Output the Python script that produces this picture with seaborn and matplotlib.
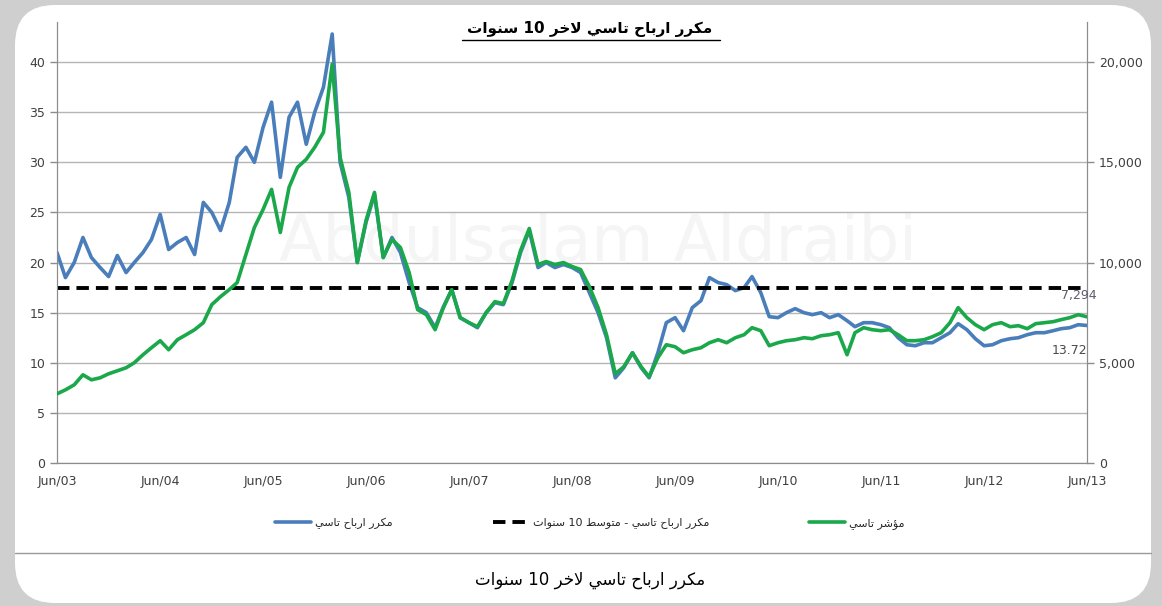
import numpy as np
import pandas as pd
import matplotlib
matplotlib.use('Agg')
import matplotlib.pyplot as plt
import matplotlib.dates as mdates
from matplotlib.patches import FancyBboxPatch
from matplotlib.lines import Line2D
from matplotlib.ticker import FuncFormatter
import seaborn as sns

# ── datos (mensuales) ─────────────────────────────────────────
fechas = pd.date_range('2003-06-01', periods=121, freq='MS')

# مكرر ارباح تاسي (eje izquierdo)
pe_tasi = [
    21.0, 18.5, 20.0, 22.5, 20.5, 19.5, 18.6,
    20.7, 19.0, 20.0, 21.0, 22.3, 24.8, 21.3, 22.0, 22.5, 20.8, 26.0, 25.0,
    23.2, 26.0, 30.5, 31.5, 30.0, 33.5, 36.0, 28.5, 34.5, 36.0, 31.8, 35.0,
    37.5, 42.8, 30.0, 26.5, 20.0, 24.0, 26.8, 20.5, 22.5, 21.0, 18.0, 15.5,
    15.0, 13.5, 15.5, 17.3, 14.5, 14.0, 13.5, 15.0, 16.0, 15.8, 18.0, 21.0,
    23.2, 19.5, 20.0, 19.5, 19.8, 19.5, 19.0, 17.0, 15.0, 12.5, 8.5, 9.5,
    11.0, 9.5, 8.5, 11.0, 14.0, 14.5, 13.2, 15.5, 16.2, 18.5, 18.0, 17.8,
    17.2, 17.5, 18.6, 17.0, 14.6, 14.5, 15.0, 15.4, 15.0, 14.8, 15.0, 14.5,
    14.8, 14.2, 13.6, 14.0, 14.0, 13.8, 13.5, 12.5, 11.8, 11.7, 12.0, 12.0,
    12.5, 13.0, 13.9, 13.3, 12.4, 11.7, 11.8, 12.2, 12.4, 12.5, 12.8, 13.0,
    13.0, 13.2, 13.4, 13.5, 13.8, 13.72,
]

# مؤشر تاسي (eje derecho)
indice_tasi = [
    3450, 3650, 3900, 4400, 4150, 4250, 4450,
    4600, 4750, 5000, 5400, 5750, 6100, 5650, 6150, 6400, 6650, 7000, 7900,
    8300, 8650, 9000, 10400, 11750, 12650, 13650, 11500, 13750, 14750, 15150, 15750,
    16500, 19900, 15250, 13500, 10000, 12100, 13500, 10250, 11150, 10750, 9500, 7650,
    7400, 6650, 7700, 8650, 7250, 7000, 6800, 7500, 8050, 7950, 9100, 10600,
    11700, 9900, 10050, 9900, 10000, 9800, 9650, 8800, 7750, 6400, 4450, 4800,
    5500, 4800, 4300, 5250, 5900, 5800, 5500, 5650, 5750, 6000, 6150, 6000,
    6250, 6400, 6750, 6600, 5850, 6000, 6100, 6150, 6250, 6200, 6350, 6400,
    6500, 5400, 6500, 6750, 6650, 6600, 6650, 6400, 6100, 6100, 6150, 6300,
    6500, 7000, 7750, 7250, 6900, 6650, 6900, 7000, 6800, 6850, 6700, 6950,
    7000, 7050, 7150, 7250, 7400, 7294,
]

pe_promedio_10 = 17.5

ticks_izq = [0, 5, 10, 15, 20, 25, 30, 35, 40]
ticks_der = [0, 5000, 10000, 15000, 20000]

titulo = 'مكرر ارباح تاسي لاخر 10 سنوات'
leyenda_pe = 'مكرر ارباح تاسي'
leyenda_prom = 'مكرر ارباح تاسي - متوسط 10 سنوات'
leyenda_idx = 'مؤشر تاسي'
pie = 'مكرر ارباح تاسي لاخر 10 سنوات'

AZUL = '#4a7ebb'
VERDE = '#1aa84a'

# ── texto árabe: formas de presentación + orden visual ────────
FORMAS = {  # aislada, final, inicial, media
    'ا': ('\uFE8D', '\uFE8E', None, None),
    'ؤ': ('\uFE85', '\uFE86', None, None),
    'ر': ('\uFEAD', '\uFEAE', None, None),
    'و': ('\uFEED', '\uFEEE', None, None),
    'ب': ('\uFE8F', '\uFE90', '\uFE91', '\uFE92'),
    'ت': ('\uFE95', '\uFE96', '\uFE97', '\uFE98'),
    'ح': ('\uFEA1', '\uFEA2', '\uFEA3', '\uFEA4'),
    'خ': ('\uFEA5', '\uFEA6', '\uFEA7', '\uFEA8'),
    'س': ('\uFEB1', '\uFEB2', '\uFEB3', '\uFEB4'),
    'ش': ('\uFEB5', '\uFEB6', '\uFEB7', '\uFEB8'),
    'ط': ('\uFEC1', '\uFEC2', '\uFEC3', '\uFEC4'),
    'ك': ('\uFED9', '\uFEDA', '\uFEDB', '\uFEDC'),
    'ل': ('\uFEDD', '\uFEDE', '\uFEDF', '\uFEE0'),
    'م': ('\uFEE1', '\uFEE2', '\uFEE3', '\uFEE4'),
    'ن': ('\uFEE5', '\uFEE6', '\uFEE7', '\uFEE8'),
    'ي': ('\uFEF1', '\uFEF2', '\uFEF3', '\uFEF4'),
}
LAM_ALEF = ('\uFEFB', '\uFEFC')


def forma_palabra(palabra):
    letras = []
    i = 0
    while i < len(palabra):
        if palabra[i] == 'ل' and i + 1 < len(palabra) and palabra[i + 1] == 'ا':
            letras.append('لا')
            i += 2
        else:
            letras.append(palabra[i])
            i += 1
    salida = []
    for k, c in enumerate(letras):
        prev = letras[k - 1] if k > 0 else None
        nxt = letras[k + 1] if k + 1 < len(letras) else None
        une_prev = prev in FORMAS and FORMAS[prev][2] is not None
        if c == 'لا':
            salida.append(LAM_ALEF[1] if une_prev else LAM_ALEF[0])
            continue
        if c not in FORMAS:
            salida.append(c)
            continue
        f = FORMAS[c]
        une_sig = f[2] is not None and (nxt in FORMAS or nxt == 'لا')
        if une_prev and une_sig:
            salida.append(f[3])
        elif une_prev:
            salida.append(f[1])
        elif une_sig:
            salida.append(f[2])
        else:
            salida.append(f[0])
    return ''.join(reversed(salida))


def ar(texto):
    palabras = texto.split(' ')
    res = []
    for p in reversed(palabras):
        if any(ch in FORMAS for ch in p):
            res.append(forma_palabra(p))
        else:
            res.append(p)
    return ' '.join(res)


# ── figura ────────────────────────────────────────────────────
sns.set_style('white')
plt.rcParams['font.family'] = ['DejaVu Sans']

fig = plt.figure(figsize=(11.62, 6.06), dpi=100)
fig.patch.set_facecolor('#cfcfcf')
panel = FancyBboxPatch((0.15, 0.03), 11.36, 5.98,
                       boxstyle='round,pad=0,rounding_size=0.4',
                       transform=fig.dpi_scale_trans, facecolor='white',
                       edgecolor='none', zorder=-10)
fig.patches.append(panel)
fig.add_artist(Line2D([0.15 / 11.62, 11.51 / 11.62], [0.53 / 6.06, 0.53 / 6.06],
                      transform=fig.transFigure, color='#9a9a9a', lw=1, zorder=-5))

ax = fig.add_axes([57 / 1162, 1 - 463 / 606, 1030 / 1162, 441 / 606])
ax.set_facecolor('none')
ax2 = ax.twinx()
ax2.set_facecolor('none')

df = pd.DataFrame({'fecha': fechas, 'pe': pe_tasi, 'idx': indice_tasi,
                   'prom': pe_promedio_10})

sns.lineplot(data=df, x='fecha', y='pe', ax=ax, color=AZUL, lw=2.6, zorder=3)
sns.lineplot(data=df, x='fecha', y='prom', ax=ax, color='black', lw=2.8,
             linestyle=(0, (3.2, 1.8)), zorder=4)
sns.lineplot(data=df, x='fecha', y='idx', ax=ax2, color=VERDE, lw=2.6, zorder=3)

ax.set_ylim(0, 44)
ax2.set_ylim(0, 22000)
ax.set_xlim(fechas[0], fechas[-1])
ax.set_yticks(ticks_izq)
ax2.set_yticks(ticks_der)
ax2.yaxis.set_major_formatter(FuncFormatter(lambda v, p: f'{int(v):,}'))

ax.xaxis.set_major_locator(mdates.MonthLocator(bymonth=6))
ax.xaxis.set_major_formatter(mdates.DateFormatter('%b/%y'))

ax.grid(axis='y', color='#b5b5b5', lw=1)
ax.set_axisbelow(True)
for a in (ax, ax2):
    a.set_xlabel('')
    a.set_ylabel('')
    for s in a.spines.values():
        s.set_color('#8c8c8c')
    a.spines['top'].set_visible(False)
    a.tick_params(colors='#8c8c8c', labelcolor='#3f3f3f', labelsize=9,
                  length=5, width=1, direction='out')
ax.tick_params(axis='x', pad=4)

ax.text(0.525, 0.5, 'Abdulsalam Aldraibi', transform=ax.transAxes,
        fontsize=46, color='#f5f5f5', ha='center', va='center', zorder=0)

# etiquetas de datos al final
ax2.annotate(f'{indice_tasi[-1]:,}', (fechas[-1], indice_tasi[-1]),
             xytext=(7, 15), textcoords='offset points', ha='right',
             va='center', fontsize=9, color='#5e5a6e')
ax.annotate(f'{pe_tasi[-1]:.2f}', (fechas[-1], pe_tasi[-1]),
            xytext=(0, -18), textcoords='offset points', ha='right',
            va='center', fontsize=9, color='#4a4a4a')

# título subrayado
fig.text(590 / 1162, 1 - 29 / 606, ar(titulo), ha='center', va='center',
         fontsize=11, fontweight='bold', color='black')
fig.add_artist(Line2D([462 / 1162, 720 / 1162], [1 - 40 / 606, 1 - 40 / 606],
                      transform=fig.transFigure, color='black', lw=1))

handles = [Line2D([], [], color=AZUL, lw=2.6),
           Line2D([], [], color='black', lw=2.8, linestyle=(0, (3.2, 1.8))),
           Line2D([], [], color=VERDE, lw=2.6)]
labels = [ar(leyenda_pe), ar(leyenda_prom), ar(leyenda_idx)]
fig.legend(handles, labels, loc='center', bbox_to_anchor=(590 / 1162, 1 - 523 / 606),
           ncol=3, frameon=False, fontsize=8, handlelength=3.2,
           columnspacing=9, handletextpad=0.4)

fig.text(590 / 1162, 1 - 580 / 606, ar(pie), ha='center', va='center',
         fontsize=12, color='black')

plt.savefig('out.png', dpi=100, facecolor=fig.get_facecolor())
